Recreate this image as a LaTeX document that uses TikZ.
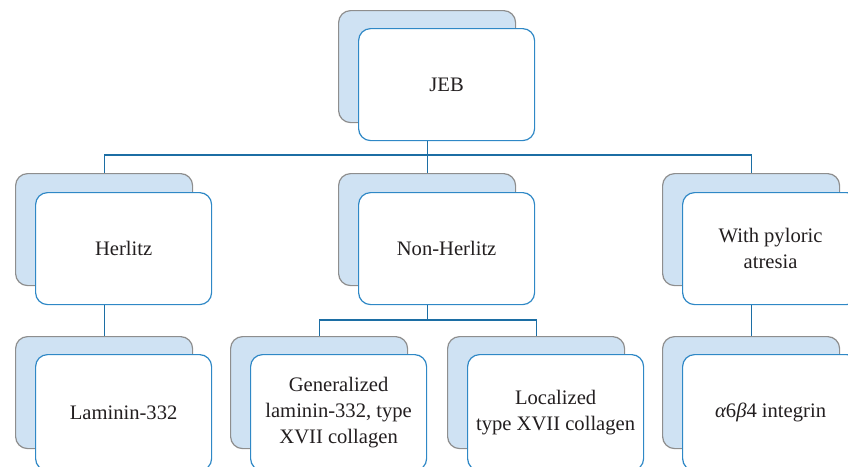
\documentclass[tikz,border=0pt]{standalone}
\usepackage{fontspec}
\setmainfont{Liberation Serif}
\definecolor{backblue}{HTML}{CFE2F3}
\definecolor{backgray}{HTML}{8E8E8E}
\definecolor{frontblue}{HTML}{2F88C6}
\definecolor{linkblue}{HTML}{1C6EA4}
\definecolor{textgray}{HTML}{231F20}
\begin{document}
\begin{tikzpicture}[x=1pt,y=-1pt,
  backbox/.style={draw=backgray, fill=backblue, line width=1.2pt, rounded corners=12pt,
    minimum width=177pt, minimum height=112pt, inner sep=0pt, anchor=north west},
  frontbox/.style={draw=frontblue, fill=white, line width=1.2pt, rounded corners=12pt,
    minimum width=176pt, minimum height=112pt, inner sep=0pt, anchor=north west,
    text=textgray, font=\fontsize{20.6}{26}\selectfont, align=center},
  lowfront/.style={frontbox, minimum height=116pt},
  link/.style={draw=linkblue, line width=1.2pt}]
\useasboundingbox (0,0) rectangle (848,466);
\clip (0,0) rectangle (848,466);
\coordinate (busy) at (0,155);
\coordinate (busz) at (0,320);
% top
\node[backbox] (jebb) at (338,10) {};
\node[frontbox] (jebf) at (358,28) {JEB};
% middle row
\node[backbox] (herb) at (15,173) {};
\node[frontbox] (herf) at (35,192) {Herlitz};
\node[backbox] (nonb) at (338,173) {};
\node[frontbox] (nonf) at (358,192) {Non-Herlitz};
\node[backbox] (pylb) at (662,173) {};
\node[frontbox] (pylf) at (682,192) {With pyloric\\atresia};
% bottom row
\node[backbox] (lamb) at (15,336) {};
\node[lowfront] (lamf) at (35,354) {Laminin-332};
\node[backbox] (genb) at (230,336) {};
\node[lowfront] (genf) at (250,354) {Generalized\\laminin-332, type\\XVII collagen};
\node[backbox] (locb) at (447,336) {};
\node[lowfront] (locf) at (467,354) {Localized\\type XVII collagen};
\node[backbox] (intb) at (662,336) {};
\node[lowfront] (intf) at (682,354) {{\itshape α}6{\itshape β}4 integrin};
% connectors
\draw[link] (jebb.south |- jebf.south) -- (jebb.south |- busy) -| (herb.north);
\draw[link] (jebb.south |- busy) -- (nonb.north);
\draw[link] (jebb.south |- busy) -| (pylb.north);
\draw[link] (herb.south |- herf.south) -- (lamb.north);
\draw[link] (nonb.south |- nonf.south) -- (nonb.south |- busz) -| (genb.north);
\draw[link] (nonb.south |- busz) -| (locb.north);
\draw[link] (pylb.south |- pylf.south) -- (intb.north);
\end{tikzpicture}
\end{document}
